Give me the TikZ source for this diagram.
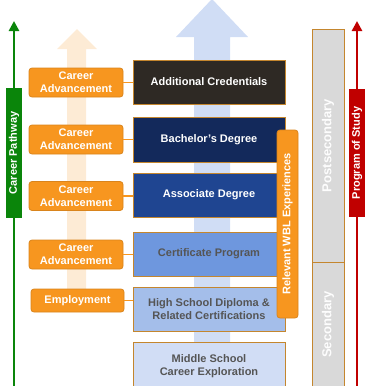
\documentclass[tikz,border=0pt]{standalone}
\usepackage{fontspec}
\setmainfont{Liberation Sans}
\usetikzlibrary{arrows.meta}
\definecolor{orgF}{HTML}{F7961F}
\definecolor{orgD}{HTML}{D9841C}
\definecolor{faintorg}{HTML}{FDEBD5}
\definecolor{bluearr}{HTML}{D0DDF5}
\definecolor{boxbord}{HTML}{C4862E}
\definecolor{acF}{HTML}{2E2924}
\definecolor{baF}{HTML}{13295B}
\definecolor{asF}{HTML}{1F4591}
\definecolor{ceF}{HTML}{6E97DE}
\definecolor{hsF}{HTML}{A4BEEA}
\definecolor{msF}{HTML}{D1DDF5}
\definecolor{grayT}{HTML}{555555}
\definecolor{pathG}{HTML}{0A850A}
\definecolor{progR}{HTML}{C00000}
\definecolor{postF}{HTML}{D9D9D9}
\begin{document}
\begin{tikzpicture}[x=1pt,y=-1pt,
  career/.style={draw=orgD, fill=orgF, rounded corners=3pt, line width=0.8pt,
    minimum width=94pt, minimum height=29pt, inner sep=0pt, text=white,
    font=\fontsize{11}{13}\selectfont\bfseries, align=center},
  degree/.style={draw=boxbord, line width=0.8pt, minimum width=152pt, minimum height=44pt,
    inner sep=0pt, font=\fontsize{11}{13.5}\selectfont\bfseries, align=center},
  conn/.style={draw=orgF, line width=1.2pt},
  level/.style={draw=boxbord, fill=postF, line width=0.8pt, minimum width=32pt, inner sep=0pt},
  leveltext/.style={rotate=90, text=white!95!postF, font=\fontsize{13}{15}\selectfont\bfseries},
  sidebar/.style={inner sep=0pt, text=white, rotate=90, minimum height=16pt,
    font=\fontsize{11}{12}\selectfont\bfseries},
  sidearrow/.style={line width=2.6pt, -{Triangle[width=10pt,length=10pt]}}]
\useasboundingbox (0,0) rectangle (367,386);
% background arrows
\fill[bluearr] (194,386) -- (194,37) -- (176,37) -- (212,-1) -- (248,37) -- (230,37) -- (230,386) -- cycle;
\fill[faintorg] (67,292) -- (67,49) -- (57,49) -- (77,29) -- (97,49) -- (86,49) -- (86,292) -- cycle;
% side arrows
\coordinate (gb) at (14,386);
\coordinate (gt) at (14,21);
\draw[pathG, sidearrow] (gb) -- (gt);
\node[sidebar, fill=pathG, minimum width=130pt] (cp) at (14,153) {Career Pathway};
\coordinate (rb) at (357,386);
\coordinate (rt) at (357,21);
\draw[progR, sidearrow] (rb) -- (rt);
\node[sidebar, fill=progR, minimum width=128pt] (ps) at (357,153) {Program of Study};
% degree boxes
\node[degree, fill=acF, text=white] (d1) at (209,82) {Additional Credentials};
\node[degree, fill=baF, text=white, minimum height=45pt] (d2) at (209,139.5) {Bachelor’s Degree};
\node[degree, fill=asF, text=white] (d3) at (209,195) {Associate Degree};
\node[degree, fill=ceF, text=grayT] (d4) at (209,254) {Certificate Program};
\node[degree, fill=hsF, text=grayT] (d5) at (209,309) {High School Diploma \&\\Related Certifications};
\node[degree, fill=msF, text=grayT, minimum height=48pt] (d6) at (209,366) {Middle School\\Career Exploration};
% career boxes
\node[career] (c1) at (76,82.5) {Career\\Advancement};
\node[career] (c2) at (76,139.5) {Career\\Advancement};
\node[career] (c3) at (76,196) {Career\\Advancement};
\node[career] (c4) at (76,254.5) {Career\\Advancement};
\node[career, minimum width=93pt, minimum height=23pt] (c5) at (77.5,300.5) {Employment};
\foreach \i in {1,...,5} {\draw[conn] (c\i.east) -- (c\i.east -| d\i.west);}
% WBL
\node[draw=orgD, fill=orgF, rounded corners=3pt, line width=0.8pt, rotate=90,
  minimum width=188pt, minimum height=21pt, inner sep=0pt, text=white,
  font=\fontsize{11}{13}\selectfont\bfseries] (wbl) at (287.5,224) {Relevant WBL Experiences};
% levels
\node[level, minimum height=233pt] (post) at (328,145.5) {};
\node[leveltext] (postT) at (post.center) {Postsecondary};
\node[level, minimum height=128pt] (sec) at (328,326) {};
\node[leveltext] (secT) at (328,324.5) {Secondary};
\end{tikzpicture}
\end{document}
